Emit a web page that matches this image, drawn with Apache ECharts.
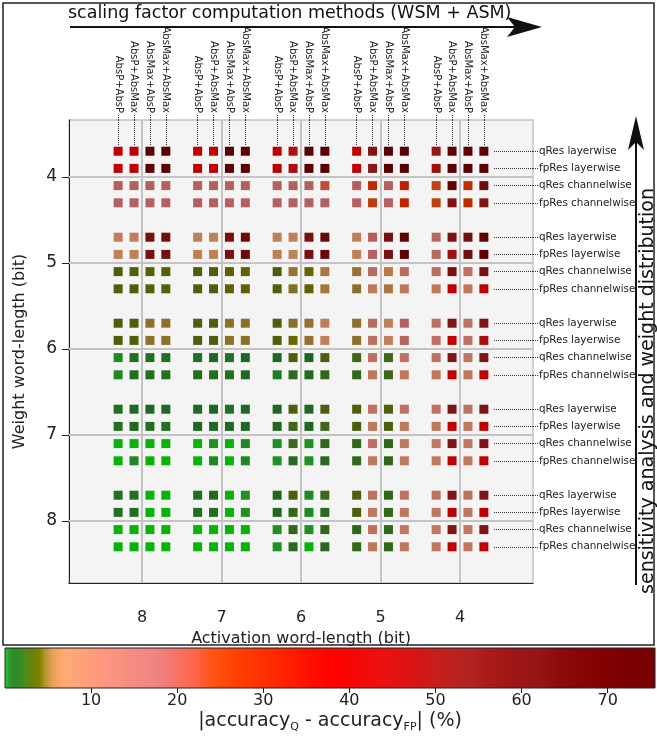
<!DOCTYPE html>
<html><head><meta charset="utf-8">
<script src="https://cdn.jsdelivr.net/npm/echarts@6/dist/echarts.min.js"></script>
<style>html,body{margin:0;padding:0;background:#fff}#c{width:657px;height:741px}</style>
</head><body><div id="c"></div><script>
// ---------- data ----------
const actBits = [8, 7, 6, 5, 4];
const weightBits = [4, 5, 6, 7, 8];
const methods = ['AbsP+AbsP', 'AbsP+AbsMax', 'AbsMax+AbsP', 'AbsMax+AbsMax'];
const configs = ['qRes layerwise', 'fpRes layerwise', 'qRes channelwise', 'fpRes channelwise'];
const colorbarTicks = [10, 20, 30, 40, 50, 60, 70];
const colorbarRange = [0, 75.5];

// |accuracy_Q - accuracy_FP| (%), rows = configs, columns = act 8..4 x methods
const diffW4 = [
  [38,38,74,73, 38,38,74,73, 38,44,74,74, 38,56,74,74, 50,72,72,70],
  [38,38,74,73, 38,38,74,73, 38,44,74,74, 38,53,74,74, 48,72,72,70],
  [18,18,18,18, 18,18,18,18, 18,18,18,22, 18,28,18,31, 24,68,27,63],
  [18,18,18,18, 18,18,18,18, 18,18,18,18, 18,25,18,30, 24,56,28,56]
];
const diffW5 = [
  [7,7,59,62, 7,7,59,64, 7,7,59,64, 7,18,59,70, 15,57,62,70],
  [7,7,59,62, 7,7,59,64, 7,7,59,64, 7,18,59,70, 15,48,62,70],
  [3.0,3.0,3.5,3.5, 3.0,3.0,4.0,4.0, 3.0,5.05,4.2,5.5, 5.0,14,6,14, 13,59,12,59],
  [3.0,3.0,3.5,3.5, 3.0,3.0,4.0,4.0, 3.0,4.6,4.0,5.3, 4.85,9,5.5,9, 9,38,9,38]
];
const diffW6 = [
  [3.0,3.0,4.85,4.85, 3.0,3.0,4.85,4.85, 3.0,4.7,5.0,7, 4.85,14,7,18, 13,56,12,56],
  [3.0,3.0,4.85,4.85, 3.0,3.0,4.85,4.85, 3.0,4.3,5.0,7, 4.85,12,7,17, 12,38,12,44],
  [0.3,0.7,0.7,0.7, 0.7,1.2,0.7,1.2, 1.2,3.0,1.2,3.0, 2.5,12,2.5,12, 12,56,9,56],
  [0.3,0.7,0.7,0.7, 0.7,0.7,0.7,1.2, 0.45,2.0,0.9,2.0, 2.0,9,2.5,9, 9,38,9,38]
];
const diffW7 = [
  [0.7,1.2,1.2,1.2, 1.2,1.2,0.7,1.2, 1.2,3.0,1.2,3.0, 3.0,12,3.0,12, 12,56,12,56],
  [0.7,1.2,0.7,0.7, 1.2,1.2,1.2,1.2, 1.2,2.5,1.2,2.5, 3.0,9,3.0,9, 9,38,9,38],
  [0.05,0.05,0.05,0.05, 0.05,0.2,0.05,0.3, 0.2,2.5,0.2,2.0, 2.0,12,2.0,9, 9,56,9,56],
  [0.05,0.3,0.05,0.05, 0.05,0.3,0.05,0.3, 0.2,1.6,0.2,1.6, 2.0,9,2.0,9, 9,38,9,38]
];
const diffW8 = [
  [0.7,0.7,0.05,0.05, 0.7,1.3,0.05,0.2, 1.2,3.0,0.3,2.5, 3.0,12,2.0,12, 12,56,12,56],
  [0.7,0.7,0.05,0.05, 0.7,0.7,0.05,0.2, 1.2,2.0,0.3,1.6, 3.0,9,2.0,9, 9,38,9,38],
  [0.05,0.05,0.05,0.05, 0.05,0.05,0.05,0.05, 0.2,2.0,0.2,2.0, 2.0,12,2.0,9, 9,56,9,56],
  [0.05,0.05,0.05,0.05, 0.05,0.05,0.05,0.05, 0.2,1.6,0.05,1.6, 2.0,9,2.0,9, 9,38,9,38]
];
const diffByWeight = [diffW4, diffW5, diffW6, diffW7, diffW8];

// colour map (value -> colour)
const cmapStops = [
  [0,'#00ff00'],[0.2,'#2bc02b'],[0.3,'#2bb52b'],[0.45,'#2ba52b'],[0.7,'#2b952b'],[1.2,'#2b8b2b'],
  [1.6,'#358b2b'],[2.0,'#408b20'],[2.5,'#508b20'],[3.0,'#658010'],[4.0,'#808000'],[4.3,'#908b00'],
  [4.6,'#ab952b'],[5.0,'#cb9540'],[5.5,'#e0a055'],[6,'#f4a460'],[7,'#ffab75'],[9,'#ffa07a'],
  [12,'#ff9580'],[14,'#f59080'],[18,'#f08080'],[22,'#ff654b'],[24,'#ff5515'],[27,'#ff4000'],
  [31,'#ff2b00'],[38,'#ff0000'],[44,'#eb1010'],[48,'#d51515'],[50,'#c81e1e'],[54,'#b22222'],
  [56,'#ab1a1a'],[59,'#a01515'],[62,'#951515'],[64,'#900a0a'],[70,'#800000'],[74,'#780000'],[75.5,'#780000']
];

// ---------- helpers ----------
const FONT = 'DejaVu Sans';
const hexToRgb = h => [1,3,5].map(i => parseInt(h.slice(i, i + 2), 16));
function cmap(v) {
  if (v <= cmapStops[0][0]) return hexToRgb(cmapStops[0][1]);
  for (let i = 1; i < cmapStops.length; i++) {
    const [v1, c1] = cmapStops[i];
    if (v <= v1) {
      const [v0, c0] = cmapStops[i - 1];
      const t = (v - v0) / (v1 - v0), a = hexToRgb(c0), b = hexToRgb(c1);
      return a.map((x, k) => x + (b[k] - x) * t);
    }
  }
  return hexToRgb(cmapStops[cmapStops.length - 1][1]);
}
const squareColor = v => 'rgb(' + cmap(v).map(x => Math.round(x * 0.75)).join(',') + ')';

const colOffset = m => 0.3 - 0.2 * m;
const rowOffset = r => -0.3 + 0.2 * r;
const points = [];
weightBits.forEach((w, wi) => diffByWeight[wi].forEach((row, r) => row.forEach((v, c) => {
  const a = actBits[Math.floor(c / 4)], m = c % 4;
  points.push([a + colOffset(m), w + rowOffset(r), v]);
})));
const colPos = [];
actBits.forEach(a => methods.forEach((_, m) => colPos.push(+(a + colOffset(m)).toFixed(3))));
const rowPos = [];
weightBits.forEach(w => configs.forEach((_, r) => rowPos.push(+(w + rowOffset(r)).toFixed(3))));
const methodOf = v => methods[Math.round((0.3 - (v - Math.round(v))) / 0.2)];
const configOf = v => configs[Math.round(((v - Math.round(v)) + 0.3) / 0.2)];

const xMin = 3.082, xMax = 8.918, yMin = 3.337, yMax = 8.721;
const dotted = { type: 'dotted', color: '#333', width: 1 };
const txt = (size) => ({ fontSize: size, color: '#222', fontFamily: FONT });

const option = {
  animation: false,
  backgroundColor: '#ffffff',
  textStyle: { fontFamily: FONT },
  grid: [
    { left: 69, top: 120, width: 464, height: 463, show: true, backgroundColor: '#f4f4f4', borderColor: '#c4c4c4', borderWidth: 1.5 },
    { left: 5, top: 648, width: 650, height: 40 }
  ],
  xAxis: [
    { gridIndex: 0, type: 'value', position: 'bottom', min: xMin, max: xMax, inverse: true,
      axisLine: { show: true, lineStyle: { color: '#222', width: 1 } }, axisTick: { show: false },
      axisLabel: Object.assign({ customValues: actBits, margin: 27 }, txt(16)),
      splitLine: { show: false },
      name: 'Activation word-length (bit)', nameLocation: 'middle', nameGap: 42, nameTextStyle: txt(16) },
    { gridIndex: 0, type: 'value', position: 'top', min: xMin, max: xMax, inverse: true,
      axisLine: { show: false },
      axisTick: { show: true, customValues: colPos, length: 6, lineStyle: dotted },
      axisLabel: Object.assign({ customValues: colPos, rotate: 90, margin: 7, formatter: v => methodOf(v) }, txt(10)),
      splitLine: { show: false } },
    { gridIndex: 0, type: 'value', position: 'top', min: xMin, max: xMax, inverse: true,
      axisLine: { show: false },
      axisTick: { show: true, inside: true, customValues: colPos, length: 25, lineStyle: dotted },
      axisLabel: { show: false }, splitLine: { show: false } },
    { gridIndex: 1, type: 'value', position: 'bottom', min: colorbarRange[0], max: colorbarRange[1],
      axisLine: { show: false },
      axisTick: { show: true, customValues: colorbarTicks, length: 5, lineStyle: { color: '#222' } },
      axisLabel: Object.assign({ customValues: colorbarTicks, margin: 5 }, txt(16)),
      splitLine: { show: false },
      name: '|accuracy{s|Q} - accuracy{s|FP}| (%)', nameLocation: 'middle', nameGap: 22,
      nameTextStyle: Object.assign({ rich: { s: { fontSize: 11, color: '#222', fontFamily: FONT, padding: [12, 0, 0, 0] } } }, txt(19)) }
  ],
  yAxis: [
    { gridIndex: 0, type: 'value', position: 'left', min: yMin, max: yMax, inverse: true,
      axisLine: { show: true, lineStyle: { color: '#222', width: 1 } },
      axisTick: { show: true, customValues: weightBits, length: 7, lineStyle: { color: '#222' } },
      axisLabel: Object.assign({ customValues: weightBits, margin: 12 }, txt(17)),
      splitLine: { show: false },
      name: 'Weight word-length (bit)', nameLocation: 'middle', nameGap: 41, nameRotate: 90, nameTextStyle: txt(16) },
    { gridIndex: 0, type: 'value', position: 'right', min: yMin, max: yMax, inverse: true,
      axisLine: { show: false },
      axisTick: { show: true, customValues: rowPos, length: 5, lineStyle: dotted },
      axisLabel: Object.assign({ customValues: rowPos, margin: 6, formatter: v => configOf(v) }, txt(10.4)),
      splitLine: { show: false } },
    { gridIndex: 0, type: 'value', position: 'right', min: yMin, max: yMax, inverse: true,
      axisLine: { show: false },
      axisTick: { show: true, inside: true, customValues: rowPos, length: 39, lineStyle: dotted },
      axisLabel: { show: false }, splitLine: { show: false } },
    { gridIndex: 1, type: 'value', min: 0, max: 1, show: false }
  ],
  series: [
    { type: 'scatter', xAxisIndex: 0, yAxisIndex: 0, data: points, symbol: 'rect', symbolSize: 9, z: 3,
      itemStyle: { color: p => squareColor(p.data[2]), opacity: 1 },
      markLine: { silent: true, symbol: ['none', 'none'], label: { show: false }, z: 1,
        lineStyle: { color: '#c4c4c4', width: 2, type: 'solid' },
        data: actBits.map(a => ({ xAxis: a })).concat(weightBits.map(w => ({ yAxis: w }))) } },
    { type: 'custom', xAxisIndex: 3, yAxisIndex: 3, data: [colorbarRange],
      renderItem: (params, api) => {
        const p0 = api.coord([api.value(0), 1]), p1 = api.coord([api.value(1), 0]);
        const span = colorbarRange[1] - colorbarRange[0];
        return { type: 'rect', shape: { x: p0[0], y: p0[1], width: p1[0] - p0[0], height: p1[1] - p0[1] },
          style: { fill: new echarts.graphic.LinearGradient(0, 0, 1, 0,
            cmapStops.map(s => ({ offset: (s[0] - colorbarRange[0]) / span, color: s[1] }))),
            stroke: '#222', lineWidth: 1 } };
      } }
  ],
  graphic: [
    { type: 'rect', shape: { x: 3, y: 3, width: 651, height: 642 }, style: { fill: null, stroke: '#222', lineWidth: 1.5 }, z: 0 },
    { type: 'text', x: 68, y: 4, style: { text: 'scaling factor computation methods (WSM + ASM)', fontSize: 17.5, fill: '#111', fontFamily: FONT } },
    { type: 'line', shape: { x1: 70, y1: 27, x2: 515, y2: 27 }, style: { stroke: '#111', lineWidth: 2 } },
    { type: 'polygon', shape: { points: [[542, 27], [507, 17], [515, 27], [507, 37]] }, style: { fill: '#111' } },
    { type: 'line', shape: { x1: 636, y1: 585, x2: 636, y2: 140 }, style: { stroke: '#111', lineWidth: 2 } },
    { type: 'polygon', shape: { points: [[636, 116], [628, 150], [636, 142], [644, 150]] }, style: { fill: '#111' } },
    { type: 'text', x: 648, y: 391, rotation: Math.PI / 2,
      style: { text: 'sensitivity analysis and weight distribution', fontSize: 19, fill: '#111', fontFamily: FONT, align: 'center', verticalAlign: 'middle' } }
  ]
};
echarts.init(document.getElementById('c'), null, { renderer: 'canvas' }).setOption(option);
</script></body></html>
